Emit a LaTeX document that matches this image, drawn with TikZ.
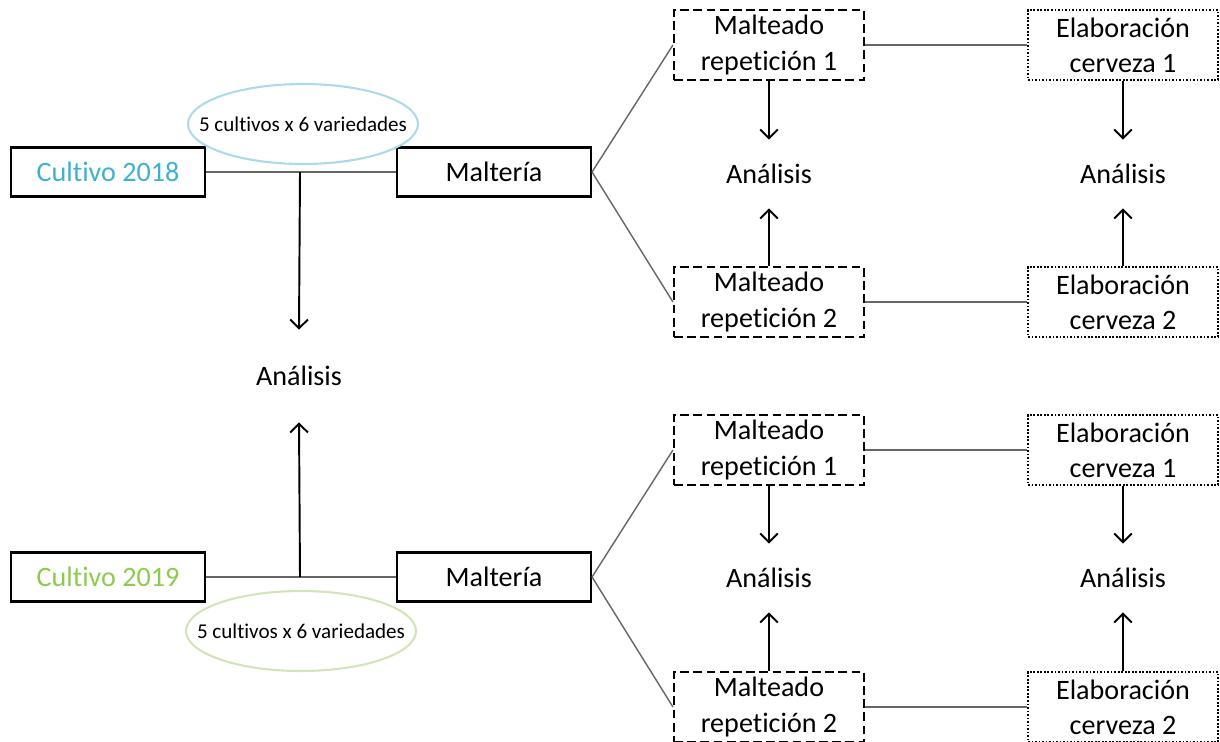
\documentclass[tikz,border=0pt]{standalone}
\usepackage{fontspec}
\setmainfont{Carlito}[RawFeature={-liga;-clig;-calt;-dlig}]
\usetikzlibrary{arrows.meta,shapes.geometric}
\definecolor{azul}{HTML}{3DB1D0}
\definecolor{azulclaro}{HTML}{ADDAEA}
\definecolor{verde}{HTML}{8CCB4E}
\definecolor{verdeclaro}{HTML}{D3E5B8}
\begin{document}
\begin{tikzpicture}[x=0.02cm,y=-0.02cm]
        \tikzstyle{cultivo}=[draw=black,line width=1.2pt,minimum width=3.88cm,minimum height=0.98cm,inner sep=0pt,font=\fontsize{16}{19}\selectfont]
        \tikzstyle{malteado}=[draw=black,line width=1.2pt,dash pattern=on 5pt off 2.5pt,minimum width=3.8cm,minimum height=1.4cm,inner sep=0pt,align=center,font=\fontsize{16}{20}\selectfont]
        \tikzstyle{cerveza}=[malteado,dash pattern=on 1pt off 1pt]
        \tikzstyle{elipse}=[ellipse,draw,line width=1.2pt,minimum width=4.6cm,minimum height=1.6cm,inner sep=0pt,font=\fontsize{12}{14}\selectfont]
        \tikzstyle{analisis}=[minimum height=1.36cm,inner sep=0pt,font=\fontsize{16}{19}\selectfont]
        \tikzstyle{linea}=[draw=black!60,line width=0.8pt]
        \tikzstyle{flecha}=[draw=black,line width=1.1pt,-{Straight Barb[length=5pt,width=10pt]}]
        \useasboundingbox (0,0) rectangle (1220,741);
       \begin{scope}
         % 2018
         \node [cultivo,text=azul] (c18) at (108,172) {Cultivo 2018};
         \node [cultivo] (m18) at (494,172) {Maltería};
         \node [elipse,draw=azulclaro] (e18) at (303,124) {\makebox[0pt]{5 cultivos x 6 variedades}};
         \coordinate (j18) at (300,172);
         \node [analisis,minimum height=1.84cm] (a18) at (299,376) {Análisis};
         \node [malteado] (r1a) at (769,45) {Malteado\\repetición 1};
         \node [malteado] (r2a) at (769,302) {Malteado\\repetición 2};
         \node [cerveza] (b1a) at (1123,45) {Elaboración\\cerveza 1};
         \node [cerveza] (b2a) at (1123,302) {Elaboración\\cerveza 2};
         \node [analisis] (ar1) at (769,174) {Análisis};
         \node [analisis] (ab1) at (1123,174) {Análisis};
         \path[linea] (c18) -- (m18);
         \path[flecha] (j18) -- (a18.north);
         \path[linea] (m18.east) -- (r1a.west);
         \path[linea] (m18.east) -- (r2a.west);
         \path[linea] (r1a) -- (b1a);
         \path[linea] (r2a) -- (b2a);
         \path[flecha] (r1a) -- (ar1);
         \path[flecha] (r2a) -- (ar1);
         \path[flecha] (b1a) -- (ab1);
         \path[flecha] (b2a) -- (ab1);
        \end{scope}
       \begin{scope}
         % 2019
         \node [cultivo,text=verde] (c19) at (108,577) {Cultivo 2019};
         \node [cultivo] (m19) at (494,577) {Maltería};
         \node [elipse,draw=verdeclaro] (e19) at (301,631) {\makebox[0pt]{5 cultivos x 6 variedades}};
         \coordinate (j19) at (300,577);
         \node [malteado] (r1b) at (769,450) {Malteado\\repetición 1};
         \node [malteado] (r2b) at (769,707) {Malteado\\repetición 2};
         \node [cerveza] (b1b) at (1123,450) {Elaboración\\cerveza 1};
         \node [cerveza] (b2b) at (1123,707) {Elaboración\\cerveza 2};
         \node [analisis] (ar2) at (769,578) {Análisis};
         \node [analisis] (ab2) at (1123,578) {Análisis};
         \path[linea] (c19) -- (m19);
         \path[flecha] (j19) -- (a18.south);
         \path[linea] (m19.east) -- (r1b.west);
         \path[linea] (m19.east) -- (r2b.west);
         \path[linea] (r1b) -- (b1b);
         \path[linea] (r2b) -- (b2b);
         \path[flecha] (r1b) -- (ar2);
         \path[flecha] (r2b) -- (ar2);
         \path[flecha] (b1b) -- (ab2);
         \path[flecha] (b2b) -- (ab2);
        \end{scope}
      \end{tikzpicture}
\end{document}
